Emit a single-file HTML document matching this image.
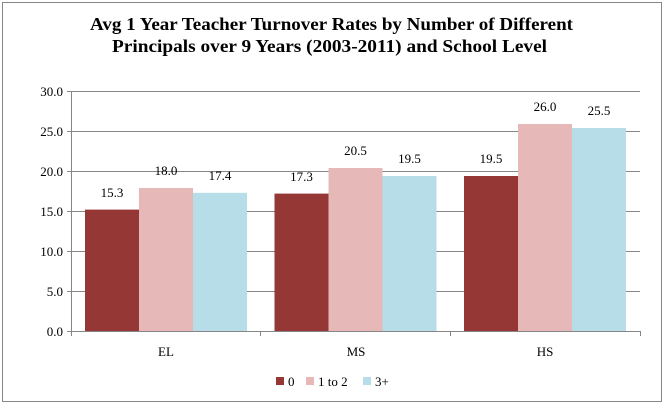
<!DOCTYPE html>
<html><head><style>
body{margin:0;background:#fff;}
svg{display:block;font-family:"Liberation Serif",serif;}
</style></head><body>
<svg width="664" height="405" xmlns="http://www.w3.org/2000/svg">
<rect x="2.5" y="2.5" width="659" height="399" fill="#fff" stroke="#868686"/>
<text x="90" y="30" font-size="18" font-weight="bold" textLength="483" lengthAdjust="spacingAndGlyphs">Avg 1 Year Teacher Turnover Rates by Number of Different</text>
<text x="112" y="52" font-size="18" font-weight="bold" textLength="435" lengthAdjust="spacingAndGlyphs">Principals over 9 Years (2003-2011) and School Level</text>
<g stroke="#868686" stroke-width="1">
<line x1="67" y1="91.5" x2="640" y2="91.5"/>
<line x1="67" y1="131.5" x2="640" y2="131.5"/>
<line x1="67" y1="171.5" x2="640" y2="171.5"/>
<line x1="67" y1="211.5" x2="640" y2="211.5"/>
<line x1="67" y1="251.5" x2="640" y2="251.5"/>
<line x1="67" y1="291.5" x2="640" y2="291.5"/>
</g>
<g>
<rect x="85" y="209.6" width="54" height="122.4" fill="#953735"/>
<rect x="139" y="188" width="54" height="144" fill="#e6b9b8"/>
<rect x="193" y="192.8" width="54" height="139.2" fill="#b7dee8"/>
<rect x="274.5" y="193.6" width="54" height="138.4" fill="#953735"/>
<rect x="328.5" y="168" width="54" height="164" fill="#e6b9b8"/>
<rect x="382.5" y="176" width="54" height="156" fill="#b7dee8"/>
<rect x="464" y="176" width="54" height="156" fill="#953735"/>
<rect x="518" y="124" width="54" height="208" fill="#e6b9b8"/>
<rect x="572" y="128" width="54" height="204" fill="#b7dee8"/>
</g>
<g stroke="#868686" stroke-width="1">
<line x1="71.5" y1="91" x2="71.5" y2="336"/>
<line x1="67" y1="331.5" x2="640" y2="331.5"/>
<line x1="260.5" y1="331" x2="260.5" y2="336"/>
<line x1="450.5" y1="331" x2="450.5" y2="336"/>
<line x1="640.5" y1="331" x2="640.5" y2="336"/>
</g>
<g font-size="13" text-anchor="end">
<text x="63" y="96">30.0</text>
<text x="63" y="136">25.0</text>
<text x="63" y="176">20.0</text>
<text x="63" y="216">15.0</text>
<text x="63" y="256">10.0</text>
<text x="63" y="296">5.0</text>
<text x="63" y="336">0.0</text>
</g>
<g font-size="13" text-anchor="middle">
<text x="112" y="197">15.3</text>
<text x="166" y="175">18.0</text>
<text x="220" y="180">17.4</text>
<text x="301.5" y="181">17.3</text>
<text x="355.5" y="155">20.5</text>
<text x="409.5" y="163">19.5</text>
<text x="491" y="163">19.5</text>
<text x="545" y="111">26.0</text>
<text x="599" y="115">25.5</text>
<text x="166" y="356">EL</text>
<text x="356" y="356">MS</text>
<text x="545" y="356">HS</text>
</g>
<g font-size="13">
<rect x="276" y="377" width="8" height="8" fill="#953735"/>
<text x="288" y="386">0</text>
<rect x="306" y="377" width="8" height="8" fill="#e6b9b8"/>
<text x="318" y="386">1 to 2</text>
<rect x="363" y="377" width="8" height="8" fill="#b7dee8"/>
<text x="375" y="386">3+</text>
</g>
</svg>
</body></html>
